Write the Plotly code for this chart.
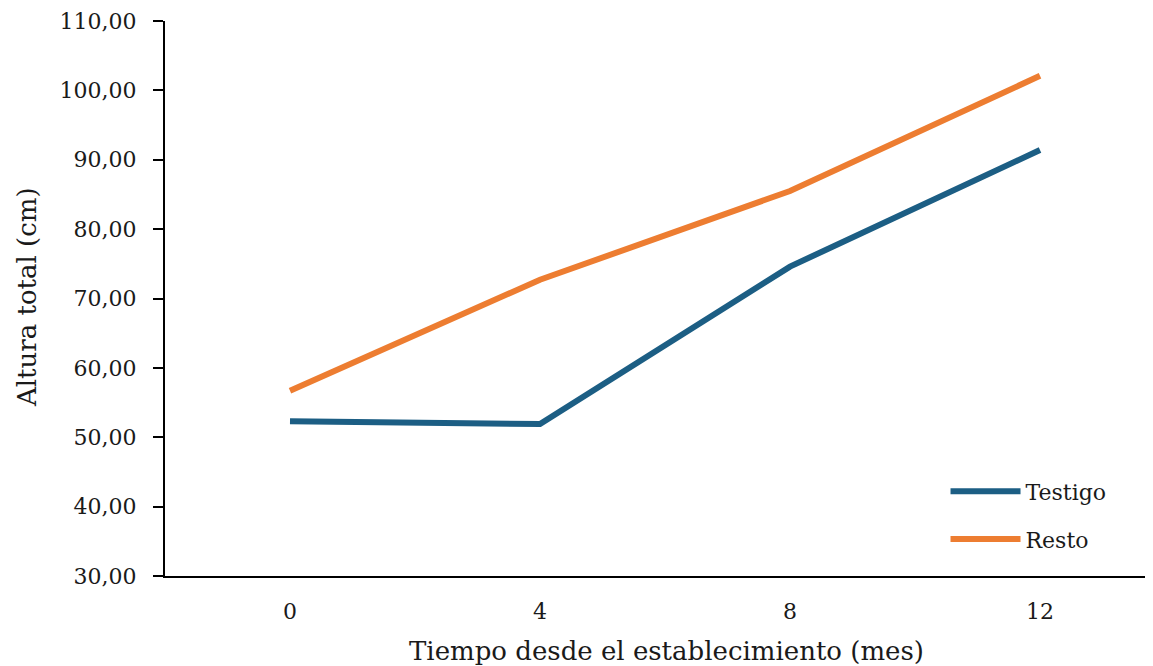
import plotly.graph_objects as go

meses = ["0", "4", "8", "12"]
testigo = [52.3, 51.9, 74.6, 91.4]
resto = [56.7, 72.7, 85.5, 102.1]
y_tickvals = [30, 40, 50, 60, 70, 80, 90, 100, 110]

BLUE = "#1C5E84"
ORANGE = "#ED7D31"
FONT = "DejaVu Serif"
TXT = "#1a1a1a"

# the page body adds an 8px offset, so the figure is drawn 8px smaller
W, H = 1145, 658
OFF = 8
L, T, B = 165 - OFF, 21 - OFF, H - (576 - OFF)
PW, PH = W - L, H - T - B

fig = go.Figure()
fig.add_trace(go.Scatter(x=meses, y=testigo, mode="lines", name="Testigo",
                         line=dict(color=BLUE, width=6), legendgroup="a"))
fig.add_trace(go.Scatter(x=meses, y=resto, mode="lines", name="Resto",
                         line=dict(color=ORANGE, width=6), legendgroup="b"))

fig.update_layout(
    width=W, height=H,
    margin=dict(l=L, r=0, t=T, b=B),
    paper_bgcolor="white", plot_bgcolor="white",
    separators=",.",
    font=dict(family=FONT, size=22, color=TXT),
    showlegend=True,
    legend=dict(x=0.79, y=0.19, xanchor="left", yanchor="top",
                bgcolor="rgba(0,0,0,0)", font=dict(size=22, family=FONT, color=TXT),
                itemwidth=70, tracegroupgap=16),
    xaxis=dict(type="category", range=[-0.5, 3.452], showgrid=False,
               showline=True, linecolor="black", linewidth=2,
               ticks="", ticklabelstandoff=15, zeroline=False,
               tickfont=dict(size=22, family=FONT, color=TXT)),
    yaxis=dict(range=[30, 110], tickvals=y_tickvals, tickformat=".2f",
               showgrid=False, showline=True, linecolor="black", linewidth=2,
               ticks="outside", ticklen=10, tickwidth=2, tickcolor="black",
               ticklabelstandoff=12, zeroline=False,
               tickfont=dict(size=22, family=FONT, color=TXT)),
    annotations=[
        dict(text="Tiempo desde el establecimiento (mes)", xref="paper", yref="paper",
             x=(666 - 165) / PW, y=-(651 - 576) / PH, xanchor="center", yanchor="middle",
             showarrow=False, font=dict(size=26, family=FONT, color=TXT)),
        dict(text="Altura total (cm)", xref="paper", yref="paper",
             x=-(165 - 27) / PW, y=(576 - 297) / PH, xanchor="center", yanchor="middle",
             textangle=-90, showarrow=False,
             font=dict(size=26, family=FONT, color=TXT)),
    ],
)

fig.write_html("out.html")
